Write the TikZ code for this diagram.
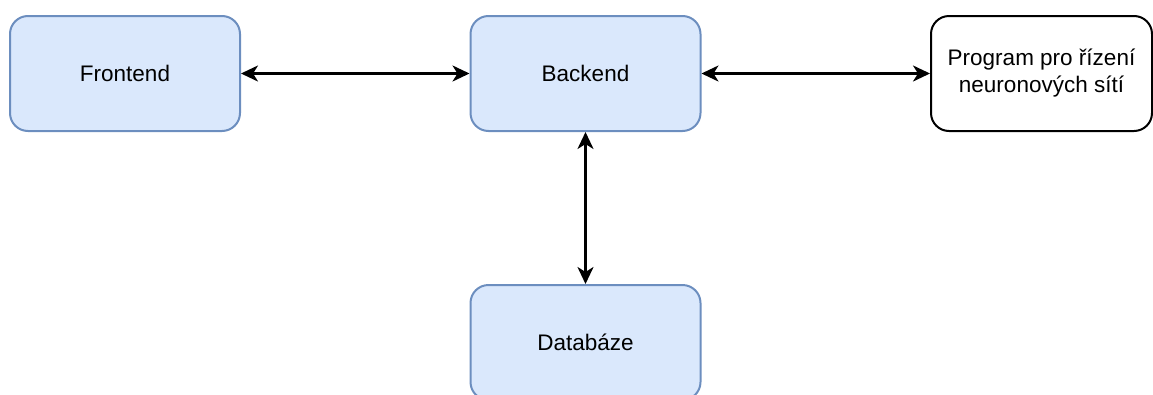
\documentclass[tikz,border=0pt]{standalone}
\usepackage{fontspec}
\setmainfont{Liberation Sans}
\usetikzlibrary{arrows.meta}
\definecolor{ramecek}{HTML}{6C8EBF}
\definecolor{vypln}{HTML}{DAE8FC}
\begin{document}
\begin{tikzpicture}[x=1pt, y=-1pt, font=\fontsize{22.5}{27}\selectfont, line join=round,
	>={Stealth[length=17pt,width=16pt,inset=5pt]},
	blok/.style={rectangle, rounded corners=18pt, minimum width=230pt, minimum height=115pt, line width=2pt, align=center},
	modry/.style={blok, draw=ramecek, fill=vypln},
	bily/.style={blok, draw=black, fill=white, minimum width=221pt},
	spoj/.style={<->, line width=2.5pt}]
	\useasboundingbox (0,0) rectangle (1153,394);
	\path 
	(125,73.5) node[modry] (front) {Frontend}
	(585.5,73.5) node[modry] (back) {Backend}
	(1041.5,73.5) node[bily] (neuro) {Program pro řízení\\neuronových sítí}
	(585.5,342.5) node[modry] (db) {Databáze}
	;
	\draw[spoj] (front)--(back);
	\draw[spoj] (back)--(neuro);
	\draw[spoj] (back)--(db);
\end{tikzpicture}
\end{document}
